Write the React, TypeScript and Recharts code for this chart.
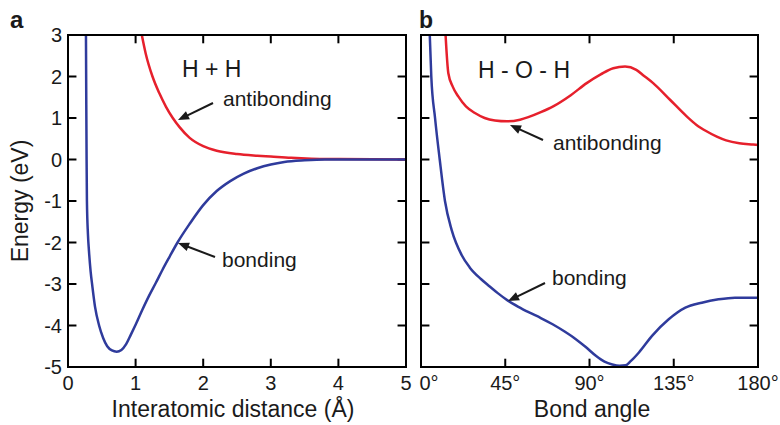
import React from 'react';
import { LineChart, Line, XAxis, YAxis, ReferenceLine } from 'recharts';

// ---------- tick labels ----------
const energyTicks = [-5, -4, -3, -2, -1, 0, 1, 2, 3];
const distanceTicks = [0, 1, 2, 3, 4, 5];
const angleTicks = [0, 45, 90, 135, 180];

// ---------- panel a : H + H ----------
const hhBondingR = [0.265, 0.27, 0.275, 0.28, 0.295, 0.31, 0.335, 0.36, 0.4, 0.46, 0.52, 0.58, 0.65, 0.72, 0.79, 0.86, 0.93, 1.0, 1.1, 1.2, 1.3, 1.4, 1.5, 1.62, 1.8, 2.0, 2.2, 2.4, 2.6, 2.8, 3.0, 3.2, 3.5, 3.8, 5.0];
const hhBondingE = [3.2, 1.5, 0, -1.0, -1.8, -2.2, -2.7, -3.05, -3.55, -4.0, -4.3, -4.5, -4.6, -4.63, -4.59, -4.45, -4.22, -3.98, -3.62, -3.28, -2.97, -2.65, -2.35, -2.0, -1.55, -1.1, -0.76, -0.52, -0.34, -0.21, -0.12, -0.06, -0.02, 0, 0];
const hhAntiR = [1.08, 1.15, 1.25, 1.35, 1.45, 1.55, 1.65, 1.8, 2.0, 2.2, 2.5, 2.8, 3.0, 3.3, 3.6, 4.0, 5.0];
const hhAntiE = [3.1, 2.55, 2.0, 1.6, 1.27, 1.0, 0.78, 0.52, 0.32, 0.21, 0.13, 0.09, 0.07, 0.04, 0.02, 0.01, 0];

// ---------- panel b : H - O - H ----------
const hohBondingA = [4.6, 5.5, 7.5, 10, 12.8, 16.4, 21.7, 26, 32, 36.7, 41, 46.4, 52, 58, 64, 70.3, 76.5, 82.7, 88, 93.4, 98, 102.2, 106, 109.3, 112, 116.4, 123.4, 132.3, 141.2, 150, 158.9, 167.7, 180];
const hohBondingE = [3.1, 2.0, 1.0, 0.0, -1.0, -1.7, -2.3, -2.6, -2.88, -3.06, -3.22, -3.4, -3.55, -3.69, -3.82, -3.97, -4.14, -4.33, -4.52, -4.73, -4.87, -4.94, -4.97, -4.96, -4.86, -4.65, -4.25, -3.85, -3.57, -3.45, -3.37, -3.33, -3.33];
const hohAntiA = [13.0, 14.6, 17, 19.9, 24, 28.8, 34, 39.5, 46, 52.9, 57.3, 64, 70.6, 80, 88.5, 96, 102.7, 109, 115, 119, 124, 133, 141.9, 147, 152.5, 158, 163, 170, 177.4, 180];
const hohAntiE = [3.1, 2.08, 1.75, 1.52, 1.28, 1.12, 1.0, 0.94, 0.92, 0.96, 1.02, 1.14, 1.28, 1.55, 1.84, 2.05, 2.2, 2.24, 2.16, 2.02, 1.84, 1.44, 1.04, 0.84, 0.68, 0.55, 0.46, 0.39, 0.36, 0.35];

const zip = (xs: number[], ys: number[]) => xs.map((x, i) => ({ x, e: ys[i] }));
const hhBonding = zip(hhBondingR, hhBondingE);
const hhAnti = zip(hhAntiR, hhAntiE);
const hohBonding = zip(hohBondingA, hohBondingE);
const hohAnti = zip(hohAntiA, hohAntiE);

const RED = '#e6202c';
const BLUE = '#2f3b9c';
const INK = '#1a1a1a';
const FONT = '"Liberation Sans", Arial, Helvetica, sans-serif';

const axisLine = { stroke: '#000', strokeWidth: 2 };

const BottomLabel = (props: any) => {
  const { x, y, payload, fmt, shiftZero } = props;
  const dx = shiftZero && payload.value === 0 ? 8 : 0;
  return (
    <text x={x + dx} y={y + 9} dy="0.71em" textAnchor="middle" fontSize={20} fill={INK} fontFamily={FONT}>
      {fmt ? fmt(payload.value) : String(payload.value)}
    </text>
  );
};
const LeftLabel = (props: any) => {
  const { x, y, payload } = props;
  return (
    <text x={x - 6} y={y} dy="0.355em" textAnchor="end" fontSize={20} fill={INK} fontFamily={FONT}>
      {String(payload.value)}
    </text>
  );
};

// inward tick marks drawn through the chart scales (tick length in data units of ~8px)
const tickMarks = (xTicks: number[], xMin: number, xMax: number, xLen: number, yLen: number, prefix: string) => {
  const out: React.ReactNode[] = [];
  xTicks.forEach((t) => {
    out.push(<ReferenceLine key={`${prefix}b${t}`} xAxisId="bottom" yAxisId="left" segment={[{ x: t, y: -5 }, { x: t, y: -5 + yLen }]} stroke="#000" strokeWidth={2} ifOverflow="visible" />);
    out.push(<ReferenceLine key={`${prefix}t${t}`} xAxisId="bottom" yAxisId="left" segment={[{ x: t, y: 3 }, { x: t, y: 3 - yLen }]} stroke="#000" strokeWidth={2} ifOverflow="visible" />);
  });
  energyTicks.forEach((t) => {
    out.push(<ReferenceLine key={`${prefix}l${t}`} xAxisId="bottom" yAxisId="left" segment={[{ x: xMin, y: t }, { x: xMin + xLen, y: t }]} stroke="#000" strokeWidth={2} ifOverflow="visible" />);
    out.push(<ReferenceLine key={`${prefix}r${t}`} xAxisId="bottom" yAxisId="left" segment={[{ x: xMax, y: t }, { x: xMax - xLen, y: t }]} stroke="#000" strokeWidth={2} ifOverflow="visible" />);
  });
  return out;
};

const Arrow = ({ x1, y1, x2, y2 }: { x1: number; y1: number; x2: number; y2: number }) => {
  const dx = x2 - x1;
  const dy = y2 - y1;
  const len = Math.sqrt(dx * dx + dy * dy);
  const ux = dx / len;
  const uy = dy / len;
  const head = 11;
  const half = 4.5;
  const bx = x2 - ux * head;
  const by = y2 - uy * head;
  const pts = `${x2},${y2} ${bx - uy * half},${by + ux * half} ${bx + uy * half},${by - ux * half}`;
  return (
    <g>
      <line x1={x1} y1={y1} x2={bx + ux} y2={by + uy} stroke={INK} strokeWidth={2} />
      <polygon points={pts} fill={INK} />
    </g>
  );
};

export default function App() {
  return (
    <div style={{ position: 'absolute', left: 0, top: 0, width: 780, height: 425, fontFamily: FONT }}>
      <div style={{ position: 'absolute', left: 0, top: 0 }}>
        <LineChart width={415} height={425} margin={{ top: 35, right: 9, bottom: 28, left: 28 }}>
          <XAxis xAxisId="bottom" dataKey="x" type="number" domain={[0, 5]} ticks={distanceTicks} interval={0} height={30}
            tickSize={0} tickMargin={0} tickLine={false} axisLine={axisLine} tick={<BottomLabel />} />
          <YAxis yAxisId="left" type="number" domain={[-5, 3]} ticks={energyTicks} interval={0} width={40}
            tickSize={0} tickMargin={0} tickLine={false} axisLine={axisLine} allowDataOverflow tick={<LeftLabel />} />
          {tickMarks(distanceTicks, 0, 5, 0.125, 0.2, 'a')}
          <Line data={hhAnti} xAxisId="bottom" yAxisId="left" dataKey="e" type="monotone" stroke={RED} strokeWidth={2.5}
            dot={false} activeDot={false} isAnimationActive={false} />
          <Line data={hhBonding} xAxisId="bottom" yAxisId="left" dataKey="e" type="monotone" stroke={BLUE} strokeWidth={2.5}
            dot={false} activeDot={false} isAnimationActive={false} />
        </LineChart>
      </div>
      <div style={{ position: 'absolute', left: 415, top: 0 }}>
        <LineChart width={365} height={425} margin={{ top: 35, right: 22, bottom: 28, left: 5 }}>
          <XAxis xAxisId="bottom" dataKey="x" type="number" domain={[0, 180]} ticks={angleTicks} interval={0} height={30}
            tickSize={0} tickMargin={0} tickLine={false} axisLine={axisLine}
            tick={<BottomLabel fmt={(v: number) => `${v}°`} shiftZero />} />
          <YAxis yAxisId="left" type="number" domain={[-5, 3]} ticks={energyTicks} interval={0} width={1}
            tickSize={0} tickMargin={0} tickLine={false} axisLine={axisLine} allowDataOverflow tick={false} />
          {tickMarks(angleTicks, 0, 180, 4.5, 0.2, 'b')}
          <Line data={hohAnti} xAxisId="bottom" yAxisId="left" dataKey="e" type="monotone" stroke={RED} strokeWidth={2.5}
            dot={false} activeDot={false} isAnimationActive={false} />
          <Line data={hohBonding} xAxisId="bottom" yAxisId="left" dataKey="e" type="monotone" stroke={BLUE} strokeWidth={2.5}
            dot={false} activeDot={false} isAnimationActive={false} />
        </LineChart>
      </div>
      <svg width={780} height={425} style={{ position: 'absolute', left: 0, top: 0, pointerEvents: 'none' }}>
        <g fontFamily={FONT} fill={INK}>
          <text x={10} y={28} fontSize={24} fontWeight="bold">a</text>
          <text x={419} y={28} fontSize={23} fontWeight="bold">b</text>
          <text x={28} y={201} fontSize={23} textAnchor="middle" transform="rotate(-90 28 201)">Energy (eV)</text>
          <text x={233} y={417} fontSize={23} textAnchor="middle">Interatomic distance (Å)</text>
          <text x={592} y={417} fontSize={23} textAnchor="middle">Bond angle</text>
          <text x={182} y={77} fontSize={23}>H + H</text>
          <text x={478} y={78} fontSize={23}>H - O - H</text>
          <text x={223} y={106} fontSize={21}>antibonding</text>
          <text x={222} y={267} fontSize={21}>bonding</text>
          <text x={553} y={150} fontSize={21}>antibonding</text>
          <text x={552} y={285} fontSize={21}>bonding</text>
        </g>
        <rect x={68} y={35} width={338} height={332} fill="none" stroke="#000" strokeWidth={2} />
        <rect x={421} y={35} width={337} height={332} fill="none" stroke="#000" strokeWidth={2} />
        <Arrow x1={213} y1={103} x2={178} y2={120} />
        <Arrow x1={215} y1={257} x2={178} y2={243} />
        <Arrow x1={543} y1={140} x2={510} y2={125} />
        <Arrow x1={545} y1={283} x2={508} y2={301} />
      </svg>
    </div>
  );
}
